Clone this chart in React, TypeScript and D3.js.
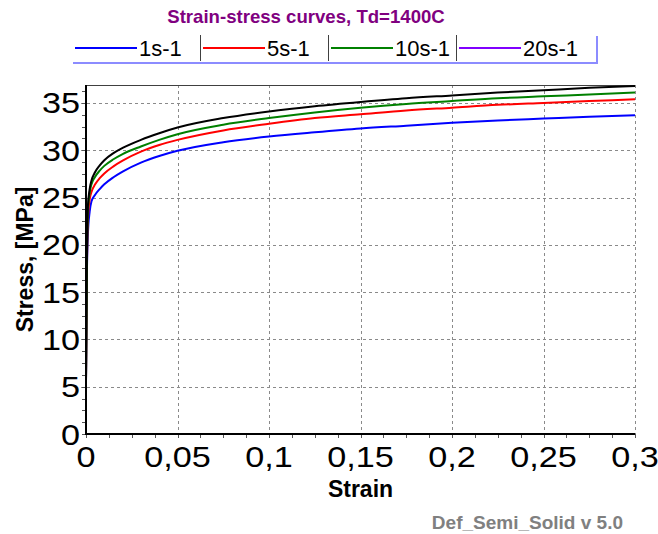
import React from 'react';
import * as d3 from 'd3';

// strain points shared by all curves
const strain = [0, 0.0005, 0.001, 0.002, 0.003, 0.005, 0.0075, 0.01, 0.015, 0.02, 0.03, 0.04, 0.05, 0.075, 0.1, 0.125, 0.15, 0.175, 0.2, 0.225, 0.25, 0.275, 0.3];

// stress [MPa] per strain rate
const stress1 = [5.6, 17, 21, 23.5, 24.6, 25.3, 25.9, 26.4, 27.15, 27.75, 28.7, 29.4, 29.95, 30.85, 31.45, 31.9, 32.3, 32.6, 32.9, 33.15, 33.35, 33.55, 33.7];
const stress5 = [5.6, 17.5, 22.5, 24.8, 25.6, 26.4, 27.05, 27.55, 28.3, 28.9, 29.85, 30.55, 31.1, 32.1, 32.8, 33.4, 33.8, 34.2, 34.5, 34.8, 35.0, 35.2, 35.4];
const stress10 = [5.6, 18, 23.5, 25.5, 26.4, 27.2, 27.85, 28.35, 29.05, 29.6, 30.4, 31.1, 31.7, 32.7, 33.4, 34.0, 34.5, 34.9, 35.2, 35.5, 35.7, 35.9, 36.1];
const stress20 = [5.6, 18.5, 24, 25.9, 26.8, 27.7, 28.4, 28.95, 29.7, 30.25, 31.1, 31.8, 32.4, 33.4, 34.1, 34.65, 35.1, 35.5, 35.8, 36.1, 36.35, 36.6, 36.8];

const seriesNames = ['1s-1', '5s-1', '10s-1', '20s-1'];
const seriesValues = [stress1, stress5, stress10, stress20];
const lineColors = ['#0000ff', '#ff0000', '#008000', '#000000'];
const legendColors = ['#0000ff', '#ff0000', '#008000', '#8000ff'];

const xTicks = [0, 0.05, 0.1, 0.15, 0.2, 0.25, 0.3];
const xTickLabels = ['0', '0,05', '0,1', '0,15', '0,2', '0,25', '0,3'];
const yTicks = [0, 5, 10, 15, 20, 25, 30, 35];

const W = 658;
const H = 534;
const m = { left: 86, right: 635, top: 85, bottom: 434 };
const font = 'Liberation Sans, Arial, sans-serif';

export default function App() {
  const x = d3.scaleLinear().domain([0, 0.3]).range([m.left, m.right]);
  const y = d3.scaleLinear().domain([0, 36.9]).range([m.bottom, m.top]);

  const line = d3
    .line<number>()
    .x((_, i) => x(strain[i]))
    .y(d => y(d))
    .curve(d3.curveMonotoneX);

  // minor ticks, 4 divisions per major step
  const xMinor = d3.range(0, 0.3 + 1e-9, 0.0125);
  const yMinor = d3.range(0, 36.9, 1.25);

  const legendX0 = 73;
  const legendStep = 128;
  const legendRight = 597;

  return (
    <svg
      width={W}
      height={H}
      style={{ position: 'absolute', left: 0, top: 0, background: '#fff' }}
      fontFamily={font}
    >
      <rect x={0} y={0} width={W} height={H} fill="#fff" />

      {/* title */}
      <text x={306} y={23} textAnchor="middle" fontSize={18.6} fontWeight="bold" fill="#800080">
        Strain-stress curves, Td=1400C
      </text>

      {/* legend */}
      <g>
        {seriesNames.map((name, i) => {
          const x0 = legendX0 + i * legendStep;
          return (
            <g key={name}>
              {i > 0 && <line x1={x0 - 0.5} x2={x0 - 0.5} y1={35} y2={61} stroke="#404040" strokeWidth={1} />}
              <line x1={x0 + 2} x2={x0 + 64} y1={48} y2={48} stroke={legendColors[i]} strokeWidth={2} />
              <text x={x0 + 66} y={56} fontSize={22} fill="#000">
                {name}
              </text>
            </g>
          );
        })}
        <line x1={legendX0} x2={legendRight} y1={63} y2={63} stroke="#8c8cff" strokeWidth={2} />
        <line x1={legendRight} x2={legendRight} y1={36} y2={64} stroke="#8c8cff" strokeWidth={2} />
      </g>

      {/* grid */}
      <g stroke="#8a8a8a" strokeWidth={1} strokeDasharray="3,3">
        {yTicks.filter(t => t > 0).map(t => (
          <line key={'gy' + t} x1={m.left - 5} x2={m.right} y1={Math.round(y(t)) + 0.5} y2={Math.round(y(t)) + 0.5} />
        ))}
        {xTicks.filter(t => t > 0).map(t => (
          <line key={'gx' + t} x1={Math.round(x(t)) + 0.5} x2={Math.round(x(t)) + 0.5} y1={m.top} y2={m.bottom + 5} />
        ))}
      </g>

      {/* top frame */}
      <line x1={m.left} x2={m.right} y1={m.top + 0.5} y2={m.top + 0.5} stroke="#404040" strokeWidth={1} />

      {/* minor ticks */}
      <g stroke="#555" strokeWidth={1}>
        {yMinor.map(t => (
          <line key={'my' + t} x1={m.left - 4} x2={m.left} y1={Math.round(y(t)) + 0.5} y2={Math.round(y(t)) + 0.5} />
        ))}
        {xMinor.map(t => (
          <line key={'mx' + t} x1={Math.round(x(t)) + 0.5} x2={Math.round(x(t)) + 0.5} y1={m.bottom} y2={m.bottom + 4} />
        ))}
      </g>

      {/* curves */}
      <g fill="none" strokeWidth={2} strokeLinejoin="round">
        {seriesValues.map((vals, i) => (
          <path key={seriesNames[i]} d={line(vals) || ''} stroke={lineColors[i]} />
        ))}
      </g>

      {/* axes */}
      <line x1={m.left} x2={m.left} y1={m.top} y2={m.bottom + 1} stroke="#000" strokeWidth={2} />
      <line x1={m.left - 1} x2={m.right} y1={m.bottom} y2={m.bottom} stroke="#000" strokeWidth={2} />

      {/* tick labels */}
      <g fontSize={29} fill="#000">
        {yTicks.map(t => (
          <text key={'ly' + t} transform={`translate(80,${y(t) + 10.5}) scale(1.18,1)`} textAnchor="end">
            {t}
          </text>
        ))}
        {xTicks.map((t, i) => (
          <text key={'lx' + t} transform={`translate(${x(t)},467) scale(1.18,1)`} textAnchor="middle">
            {xTickLabels[i]}
          </text>
        ))}
      </g>

      {/* axis titles */}
      <text x={(m.left + m.right) / 2} y={497} textAnchor="middle" fontSize={23} fontWeight="bold">
        Strain
      </text>
      <text
        transform={`translate(33,${(m.top + m.bottom) / 2}) rotate(-90)`}
        textAnchor="middle"
        fontSize={23}
        fontWeight="bold"
      >
        Stress, [MPa]
      </text>

      {/* footer */}
      <text x={623} y={529} textAnchor="end" fontSize={19} fontWeight="bold" fill="#808080">
        Def_Semi_Solid v 5.0
      </text>
    </svg>
  );
}
